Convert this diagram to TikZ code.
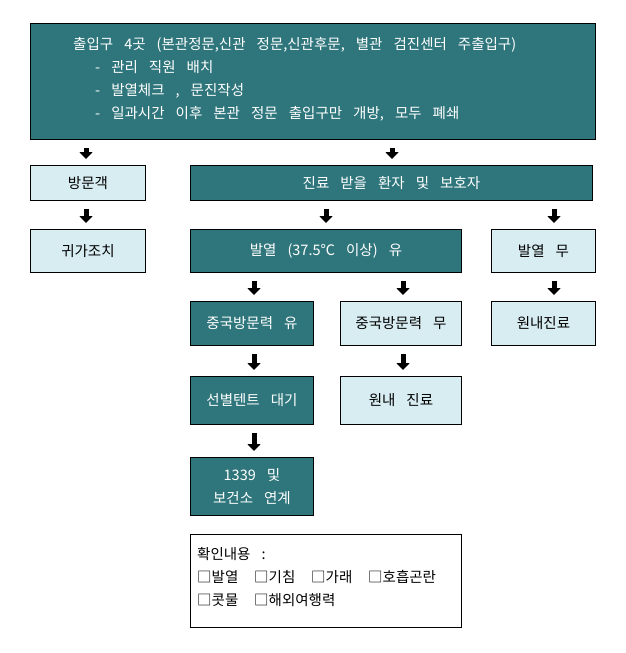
\documentclass[tikz,border=0pt]{standalone}
\usepackage{fontspec}
\setmainfont{Noto Sans CJK KR}[WordSpace=3.4]
\usetikzlibrary{arrows.meta}
\definecolor{tealdark}{RGB}{47,118,124}
\definecolor{palecyan}{RGB}{216,237,242}
\begin{document}
\begin{tikzpicture}[x=1pt,y=-1pt,
  box/.style={draw=black, line width=0.9pt, anchor=north west, inner sep=0pt, align=center,
              font=\fontsize{14.5}{23}\selectfont},
  darkbox/.style={box, fill=tealdark, text=white},
  lightbox/.style={box, fill=palecyan, text=black},
  whitebox/.style={box, fill=white, text=black},
  barrow/.style={line width=5pt, -{Triangle[width=13pt,length=7pt]}, shorten <=8pt, shorten >=6pt},
  txt/.style={anchor=north west, inner sep=0pt, align=left, font=\fontsize{14.5}{23}\selectfont}
]
\useasboundingbox (0,0) rectangle (625,653);
\fill[white] (0,0) rectangle (625,653);

% arrow columns
\coordinate (c1) at (86,0);
\coordinate (c2) at (392,0);
\coordinate (c3) at (326,0);
\coordinate (c4) at (554,0);
\coordinate (c5) at (254,0);
\coordinate (c6) at (403,0);

\node[darkbox, minimum width=565pt, minimum height=116pt] (top) at (30,23) {};
\node[txt, text=white] (toptxt) at (73,37) {출입구 4곳 (본관정문,신관 정문,신관후문, 별관 검진센터 주출입구)\\
\hspace{22pt}- 관리 직원 배치\\
\hspace{22pt}- 발열체크 , 문진작성\\
\hspace{22pt}- 일과시간 이후 본관 정문 출입구만 개방, 모두 폐쇄};

\node[lightbox, minimum width=115pt, minimum height=35pt] (visit) at (30,165) {방문객};
\node[darkbox, minimum width=402pt, minimum height=35pt] (patient) at (190,165) {진료 받을 환자 및 보호자};

\node[lightbox, minimum width=115pt, minimum height=43pt] (home) at (30,229) {귀가조치};
\node[darkbox, minimum width=271pt, minimum height=43pt] (fever) at (190,229) {발열 (37.5℃ 이상) 유};
\node[lightbox, minimum width=104pt, minimum height=43pt] (nofever) at (491,229) {발열 무};

\node[darkbox, minimum width=123pt, minimum height=44pt] (china) at (190,301) {중국방문력 유};
\node[lightbox, minimum width=121pt, minimum height=44pt] (nochina) at (340,301) {중국방문력 무};
\node[lightbox, minimum width=104pt, minimum height=44pt] (clinic1) at (491,301) {원내진료};

\node[darkbox, minimum width=123pt, minimum height=48pt] (tent) at (190,376) {선별텐트 대기};
\node[lightbox, minimum width=121pt, minimum height=48pt] (clinic2) at (340,376) {원내 진료};

\node[darkbox, minimum width=123pt, minimum height=58pt] (link) at (190,457) {1339 및\\보건소 연계};

\node[whitebox, minimum width=271pt, minimum height=93pt] (check) at (190,534) {};
\node[txt] (checktxt) at (197,547) {확인내용 :\\
\makebox[57pt][l]{□발열}\makebox[57pt][l]{□기침}\makebox[57pt][l]{□가래}□호흡곤란\\
\makebox[57pt][l]{□콧물}□해외여행력};

% arrows
\draw[barrow] (top.south -| c1) -- (visit.north -| c1);
\draw[barrow] (top.south -| c2) -- (patient.north -| c2);
\draw[barrow] (visit.south -| c1) -- (home.north -| c1);
\draw[barrow] (patient.south -| c3) -- (fever.north -| c3);
\draw[barrow] (patient.south -| c4) -- (nofever.north -| c4);
\draw[barrow] (fever.south -| c5) -- (china.north -| c5);
\draw[barrow] (fever.south -| c6) -- (nochina.north -| c6);
\draw[barrow] (nofever.south -| c4) -- (clinic1.north -| c4);
\draw[barrow] (china.south -| c5) -- (tent.north -| c5);
\draw[barrow] (nochina.south -| c6) -- (clinic2.north -| c6);
\draw[barrow] (tent.south -| c5) -- (link.north -| c5);
\end{tikzpicture}
\end{document}
